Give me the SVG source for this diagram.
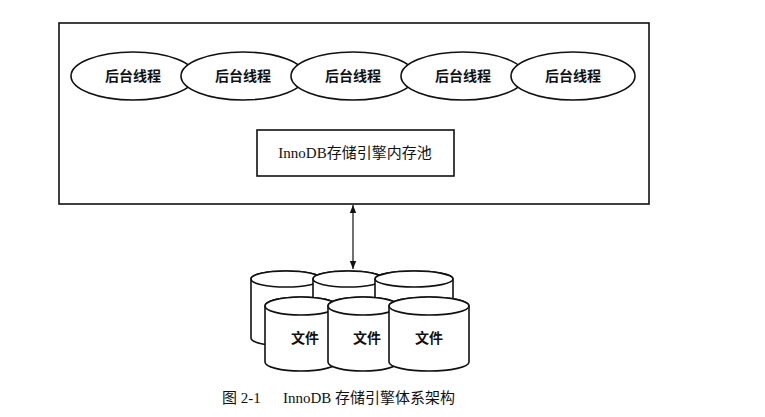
<svg xmlns="http://www.w3.org/2000/svg" width="765" height="417" viewBox="0 0 765 417">
<defs>
<style>
.s{fill:#fff;stroke:#111;stroke-width:1.6}
.t{font-family:"Noto Sans CJK SC",sans-serif;font-weight:bold;font-size:14px;fill:#111;text-anchor:middle}
.m{font-family:"Liberation Serif","Noto Sans CJK SC",serif;font-size:15px;fill:#111;text-anchor:middle}
</style>
<marker id="a" viewBox="0 0 10 10" refX="10" refY="5" markerWidth="7" markerHeight="7" orient="auto-start-reverse"><path d="M0,1 L10,5 L0,9 Z" fill="#111"/></marker>
</defs>
<rect width="765" height="417" fill="#fff"/>
<g id="engine"><rect class="s" x="59" y="23" width="590" height="181"/></g>
<g id="t1"><ellipse class="s" cx="133" cy="76" rx="62" ry="24"/><text class="t" x="133" y="81">后台线程</text></g>
<g id="t2"><ellipse class="s" cx="243" cy="76" rx="62" ry="24"/><text class="t" x="243" y="81">后台线程</text></g>
<g id="t3"><ellipse class="s" cx="353" cy="76" rx="62" ry="24"/><text class="t" x="353" y="81">后台线程</text></g>
<g id="t4"><ellipse class="s" cx="463" cy="76" rx="62" ry="24"/><text class="t" x="463" y="81">后台线程</text></g>
<g id="t5"><ellipse class="s" cx="573" cy="76" rx="62" ry="24"/><text class="t" x="573" y="81">后台线程</text></g>
<g id="pool"><rect class="s" x="257" y="130" width="197" height="46"/><text class="m" x="355" y="158">InnoDB存储引擎内存池</text></g>
<g id="connectors"><line x1="353" y1="205" x2="353" y2="269" stroke="#111" stroke-width="1.2" marker-start="url(#a)" marker-end="url(#a)"/></g>
<g id="files">
<g id="b1"><path class="s" d="M251,279 L251,338 A35,8 0 0 0 321,338 L321,279 A35,8 0 0 0 251,279 Z"/><ellipse class="s" cx="286" cy="279" rx="35" ry="8"/></g>
<g id="b2"><path class="s" d="M313,279 L313,338 A35,8 0 0 0 383,338 L383,279 A35,8 0 0 0 313,279 Z"/><ellipse class="s" cx="348" cy="279" rx="35" ry="8"/></g>
<g id="b3"><path class="s" d="M375,279 L375,338 A39,8 0 0 0 453,338 L453,279 A39,8 0 0 0 375,279 Z"/><ellipse class="s" cx="414" cy="279" rx="39" ry="8"/></g>
<g id="f1"><path class="s" d="M265,306 L265,362 A36,9 0 0 0 337,362 L337,306 A36,9 0 0 0 265,306 Z"/><ellipse class="s" cx="301" cy="306" rx="36" ry="9"/><text class="t" x="305" y="343">文件</text></g>
<g id="f2"><path class="s" d="M328,306 L328,362 A35,9 0 0 0 398,362 L398,306 A35,9 0 0 0 328,306 Z"/><ellipse class="s" cx="363" cy="306" rx="35" ry="9"/><text class="t" x="367" y="343">文件</text></g>
<g id="f3"><path class="s" d="M389,306 L389,362 A40,9 0 0 0 469,362 L469,306 A40,9 0 0 0 389,306 Z"/><ellipse class="s" cx="429" cy="306" rx="40" ry="9"/><text class="t" x="429" y="343">文件</text></g>
</g>
<text x="222" y="403" font-family="'Liberation Serif','Noto Sans CJK SC',serif" font-size="15" fill="#111">图 2-1<tspan x="283">InnoDB 存储引擎体系架构</tspan></text>
</svg>
